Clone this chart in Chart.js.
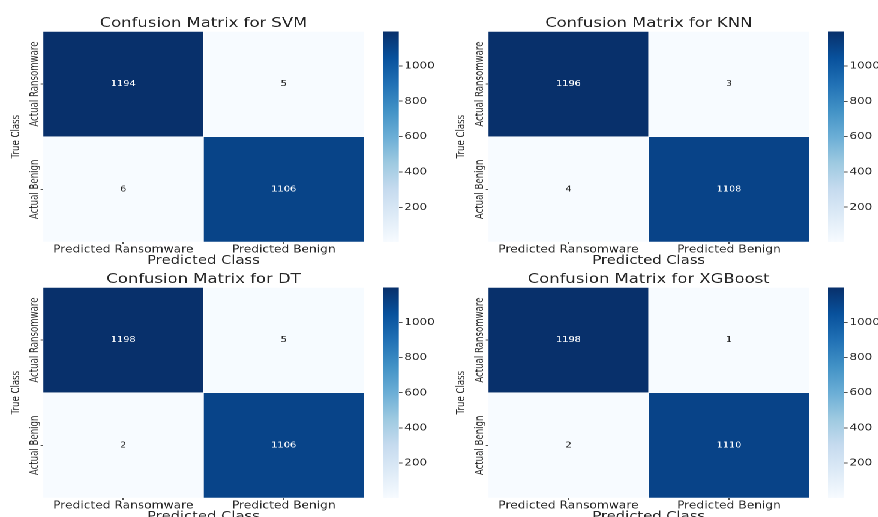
<!DOCTYPE html>
<html>
<head>
<meta charset="utf-8">
<title>Confusion matrices</title>
<script src="https://cdn.jsdelivr.net/npm/chart.js@4.4.1/dist/chart.umd.min.js"></script>
<style>
  html, body { margin: 0; padding: 0; background: #fff; overflow: hidden; }
  /* the original figure is stretched sideways, so the whole sheet is too */
  #fig { position: relative; width: 731.67px; height: 517px; transform: scaleX(1.2); transform-origin: 0 0; }
  .panel { position: absolute; width: 370px; height: 270px; }
  .panel canvas { position: absolute; }
</style>
</head>
<body>
<div id="fig"></div>
<script>
// data
const predictedLabels = ['Predicted Ransomware', 'Predicted Benign'];
const actualLabels = ['Actual Ransomware', 'Actual Benign'];
const modelNames = ['SVM', 'KNN', 'DT', 'XGBoost'];
const svmCounts = [[1194, 5], [6, 1106]];
const knnCounts = [[1196, 3], [4, 1108]];
const dtCounts = [[1198, 5], [2, 1106]];
const xgbCounts = [[1198, 1], [2, 1110]];
const colorbarTicks = [200, 400, 600, 800, 1000];

const allCounts = [svmCounts, knnCounts, dtCounts, xgbCounts];
const panelPos = [[0, 0], [370.83, 0], [0, 256], [370.83, 256]];

const FONT = 'DejaVu Sans';
const INK = '#262626';
Chart.defaults.font.family = FONT;
Chart.defaults.color = INK;

// matplotlib "Blues"
const BLUES = [
  [247, 251, 255], [222, 235, 247], [198, 219, 239], [158, 202, 225], [107, 174, 214],
  [66, 146, 198], [33, 113, 181], [8, 81, 156], [8, 48, 107]
];
function bluesRGB(t) {
  t = Math.max(0, Math.min(1, t));
  const p = t * (BLUES.length - 1);
  const i = Math.min(Math.floor(p), BLUES.length - 2);
  const f = p - i;
  return BLUES[i].map((c, k) => Math.round(c + (BLUES[i + 1][k] - c) * f));
}
const rgb = (c) => `rgb(${c[0]},${c[1]},${c[2]})`;
const lum = (c) => {
  const l = c.map(v => { v /= 255; return v <= 0.03928 ? v / 12.92 : Math.pow((v + 0.055) / 1.055, 2.4); });
  return 0.2126 * l[0] + 0.7152 * l[1] + 0.0722 * l[2];
};

// cell numbers
const annotate = {
  id: 'annotate',
  afterDatasetsDraw(chart) {
    const ctx = chart.ctx;
    ctx.save();
    ctx.font = `8.2px '${FONT}'`;
    ctx.textAlign = 'center';
    ctx.textBaseline = 'middle';
    chart.data.datasets.forEach((ds, d) => {
      chart.getDatasetMeta(d).data.forEach((el, i) => {
        const c = ds.cellRGB[i];
        ctx.fillStyle = lum(c) > 0.408 ? INK : '#ffffff';
        ctx.fillText(String(ds.counts[i]), el.x, (el.y + el.base) / 2);
      });
    });
    ctx.restore();
  }
};

// rotated row labels + "True Class" (narrow, thick glyphs like the source)
function vText(ctx, text, x, y) {
  ctx.save();
  ctx.translate(x, y);
  ctx.scale(1.15, 1);
  ctx.rotate(-Math.PI / 2);
  ctx.fillText(text, 0, 0);
  ctx.restore();
}
const rowLabels = {
  id: 'rowLabels',
  afterDraw(chart) {
    const ctx = chart.ctx, ys = chart.scales.y, area = chart.chartArea;
    ctx.save();
    ctx.font = `8.6px '${FONT}'`;
    ctx.fillStyle = INK;
    ctx.textAlign = 'center';
    ctx.textBaseline = 'middle';
    actualLabels.forEach((label, r) => {
      vText(ctx, label, area.left - 6.8, ys.getPixelForValue(actualLabels.length - r - 0.5));
    });
    vText(ctx, 'True Class', 13.3, (area.top + area.bottom) / 2);
    ctx.restore();
  }
};

function makePanel(idx) {
  const counts = allCounts[idx];
  const flat = counts.flat();
  const vmin = Math.min(...flat), vmax = Math.max(...flat);
  const norm = (v) => (v - vmin) / (vmax - vmin);

  const panel = document.createElement('div');
  panel.className = 'panel';
  panel.style.left = panelPos[idx][0] + 'px';
  panel.style.top = panelPos[idx][1] + 'px';
  document.getElementById('fig').appendChild(panel);

  const hm = document.createElement('canvas');
  hm.width = 306; hm.height = 268;
  hm.style.left = '0px'; hm.style.top = '0px';
  panel.appendChild(hm);

  const cb = document.createElement('canvas');
  cb.width = 48; cb.height = 268;
  cb.style.left = '319.17px'; cb.style.top = '0px';
  panel.appendChild(cb);

  // stacked: bottom row first
  const datasets = actualLabels.map((label, r) => {
    const cellRGB = counts[r].map(v => bluesRGB(norm(v)));
    return {
      label,
      data: predictedLabels.map(() => 1),
      counts: counts[r],
      cellRGB,
      backgroundColor: cellRGB.map(rgb),
      borderColor: '#ffffff',
      borderWidth: 0.6,
      borderSkipped: false,
      barPercentage: 1,
      categoryPercentage: 1
    };
  }).reverse();

  new Chart(hm, {
    type: 'bar',
    data: { labels: predictedLabels, datasets },
    options: {
      responsive: false,
      animation: false,
      devicePixelRatio: 2,
      layout: { padding: { left: 0, right: 2.67, top: 0, bottom: 0 } },
      plugins: {
        legend: { display: false },
        tooltip: { enabled: false },
        title: {
          display: true,
          text: 'Confusion Matrix for ' + modelNames[idx],
          fullSize: false,
          color: INK,
          font: { size: 13.7, weight: 'normal' },
          padding: { top: 15, bottom: 0 }
        }
      },
      scales: {
        x: {
          stacked: true,
          border: { display: false },
          grid: { offset: false, drawOnChartArea: false, tickLength: 2, color: INK, lineWidth: 0.8 },
          ticks: { padding: 0, maxRotation: 0, font: { size: 10.2, lineHeight: 1.1 }, color: INK },
          title: { display: true, text: 'Predicted Class', color: INK, font: { size: 12.3 }, padding: 0 },
          afterFit: (s) => { s.height = 268 - 242; }
        },
        y: {
          stacked: true,
          min: 0,
          max: actualLabels.length,
          border: { display: false },
          grid: { drawOnChartArea: false, tickLength: 2, color: INK, lineWidth: 0.8 },
          ticks: { display: false },
          afterBuildTicks: (s) => { s.ticks = actualLabels.map((_, r) => ({ value: r + 0.5 })); },
          afterFit: (s) => { s.width = 35.83; }
        }
      }
    },
    plugins: [annotate, rowLabels]
  });

  // colorbar
  new Chart(cb, {
    type: 'bar',
    data: {
      labels: [''],
      datasets: [{
        data: [[vmin, vmax]],
        backgroundColor: (c) => {
          const area = c.chart.chartArea;
          if (!area) return rgb(bluesRGB(0.5));
          const g = c.chart.ctx.createLinearGradient(0, area.bottom, 0, area.top);
          BLUES.forEach((col, k) => g.addColorStop(k / (BLUES.length - 1), rgb(col)));
          return g;
        },
        borderWidth: 0,
        barPercentage: 1,
        categoryPercentage: 1
      }]
    },
    options: {
      responsive: false,
      animation: false,
      devicePixelRatio: 2,
      layout: { padding: { left: 0, right: 0, top: 31.44, bottom: 268 - 242 } },
      plugins: { legend: { display: false }, tooltip: { enabled: false } },
      scales: {
        x: { display: false },
        y: {
          position: 'right',
          min: vmin,
          max: vmax,
          border: { display: false },
          grid: { drawOnChartArea: false, tickLength: 3, color: INK, lineWidth: 0.8 },
          afterBuildTicks: (s) => { s.ticks = colorbarTicks.map(v => ({ value: v })); },
          ticks: { padding: 1.5, font: { size: 10 }, color: INK, callback: (v) => String(v) },
          afterFit: (s) => { s.width = 48 - 13.33; }
        }
      }
    }
  });
}

modelNames.forEach((_, i) => makePanel(i));
</script>
</body>
</html>
